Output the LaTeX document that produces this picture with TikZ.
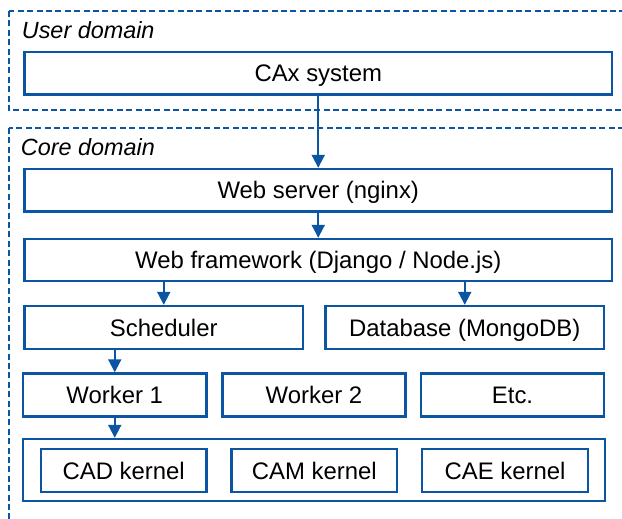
\documentclass[tikz,border=0pt]{standalone}
\usepackage{fontspec}
\setmainfont{Liberation Sans}
\usetikzlibrary{arrows.meta}
\definecolor{bl}{HTML}{0B55A3}
\begin{document}
\begin{tikzpicture}[x=1pt,y=-1pt,
  every node/.style={font=\fontsize{23.9pt}{26pt}\selectfont},
  box/.style={draw=bl,line width=2.4pt,inner sep=0pt,text height=17.1pt,text depth=0pt,fill=white},
  dom/.style={draw=bl,line width=1.8pt,dash pattern=on 6pt off 3.4pt},
  lbl/.style={anchor=base west,inner sep=0pt,font=\fontsize{23.4pt}{26pt}\selectfont\itshape},
  arr/.style={draw=bl,line width=2pt,-{Triangle[length=13pt,width=13pt]}}]
\useasboundingbox (0,0) rectangle (622,519);
\clip (0,0) rectangle (622,519);
\fill[white] (0,0) rectangle (622,519);
% domains
\draw[dom] (9,11) rectangle (660,110);
\draw[dom] (9,128) rectangle (660,560);
\node[lbl] (ud) at (21.7,39) {User domain};
\node[lbl] (cd) at (20.7,155.7) {Core domain};
% boxes
\node[box,minimum width=587.5pt,minimum height=42.5pt] (cax) at (318.25,73.25) {CAx system};
\node[box,minimum width=587.5pt,minimum height=42.5pt] (web) at (318.25,190.25) {Web server (nginx)};
\node[box,minimum width=587.5pt,minimum height=42pt] (fw) at (318.25,260) {Web framework (Django / Node.js)};
\node[box,minimum width=278.5pt,minimum height=43pt] (sch) at (163.75,327.5) {Scheduler};
\node[box,minimum width=278.5pt,minimum height=43pt] (db) at (464.75,327.5) {Database (MongoDB)};
\node[box,minimum width=183.5pt,minimum height=43pt] (w1) at (114.75,395) {Worker 1};
\node[box,minimum width=183pt,minimum height=43pt] (w2) at (314,395) {Worker 2};
\node[box,minimum width=183pt,minimum height=43pt] (etc) at (512.5,395) {Etc.};
\node[box,minimum width=582pt,minimum height=62pt] (cont) at (314,470) {};
\node[box,minimum width=165.5pt,minimum height=43pt] (cad) at (123.75,470.5) {CAD kernel};
\node[box,minimum width=165.5pt,minimum height=43pt] (cam) at (314.25,470.5) {CAM kernel};
\node[box,minimum width=166pt,minimum height=43pt] (cae) at (505,470.5) {CAE kernel};
% arrows
\draw[arr] (cax.south) -- (web.north);
\draw[arr] (web.south) -- (fw.north);
\draw[arr] (sch.north |- fw.south) -- (sch.north);
\draw[arr] (db.north |- fw.south) -- (db.north);
\draw[arr] (w1.north |- sch.south) -- (w1.north);
\draw[arr] (w1.south) -- (w1.south |- cont.north);
\end{tikzpicture}
\end{document}
